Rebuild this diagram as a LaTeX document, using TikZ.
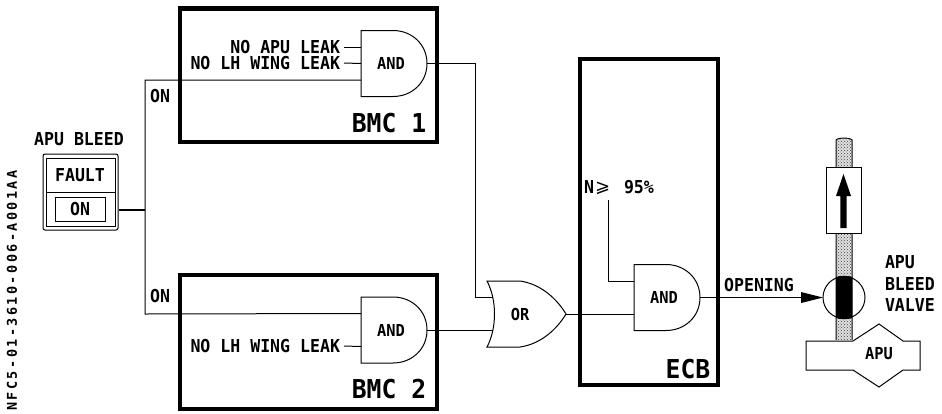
\documentclass[tikz,border=0pt]{standalone}
\usepackage{fontspec}
\usetikzlibrary{patterns,arrows.meta}
\newfontfamily\lblfont[FakeStretch=0.93]{DejaVu Sans Mono Bold}
\newfontfamily\bigfont[FakeStretch=0.95]{DejaVu Sans Mono Bold}
\newfontfamily\sidefont[LetterSpace=18]{DejaVu Sans Mono Bold}
\newfontfamily\symfont{DejaVu Sans}
\newcommand{\lblsize}{\fontsize{17.8}{20}\lblfont}
\newcommand{\gatesize}{\fontsize{16.5}{20}\lblfont}
\newcommand{\bigsize}{\fontsize{26}{30}\bigfont}
\tikzset{
  wire/.style={line width=1pt,black},
  gateline/.style={line width=1pt,black,fill=white},
  panel/.style={draw=black,line width=4.4pt,rectangle,inner sep=0pt,outer sep=0pt},
  lbl/.style={inner sep=0pt,outer sep=0pt,font=\lblsize},
  lblr/.style={lbl,anchor=east},
  lbll/.style={lbl,anchor=west},
  gatelbl/.style={inner sep=0pt,outer sep=0pt,font=\gatesize},
  biglbl/.style={inner sep=0pt,outer sep=0pt,font=\bigsize},
  dotted pipe/.style={draw=black,line width=1pt,fill=black!12,postaction={pattern=crosshatch dots,pattern color=black!75}},
}
\newcommand{\andgate}[3]{% name, left x, centre y
  \draw[gateline] (#2,#3-33) -- (#2+32,#3-33)
    .. controls (#2+51,#3-33) and (#2+66,#3-19) .. (#2+66,#3)
    .. controls (#2+66,#3+19) and (#2+51,#3+33) .. (#2+32,#3+33)
    -- (#2,#3+33) -- cycle;
  \node[gatelbl] (#1) at (#2+30,#3) {AND};
  \coordinate (#1top) at (#2,#3-16.5);
  \coordinate (#1mid) at (#2,#3);
  \coordinate (#1bot) at (#2,#3+16.5);
  \coordinate (#1out) at (#2+66,#3);
}
\begin{document}
\begin{tikzpicture}[x=1pt,y=-1pt]
\useasboundingbox (0,0) rectangle (942,413);
% panels
\node[panel,minimum width=257pt,minimum height=133.5pt] (bmcA) at (308.5,75.2) {};
\node[panel,minimum width=257pt,minimum height=133.5pt] (bmcB) at (308.5,342) {};
\node[panel,minimum width=138pt,minimum height=326pt] (ecb) at (649,222) {};
\node[biglbl] (bmcAname) at (389,123) {BMC 1};
\node[biglbl] (bmcBname) at (389,389) {BMC 2};
\node[biglbl] (ecbname) at (688,369) {ECB};
% gates
\andgate{andA}{361}{63.5}
\andgate{andB}{361}{330}
\andgate{andC}{634}{297.5}
\draw[gateline] (487,281) -- (520,281)
  .. controls (541,284) and (557,299) .. (566,314)
  .. controls (557,329) and (541,344) .. (520,347) -- (487,347)
  .. controls (497,328) and (497,300) .. (487,281) -- cycle;
\node[gatelbl] (orgate) at (520,314) {OR};
\coordinate (ortop) at (492.5,297.5);
\coordinate (orbot) at (492.5,330);
\coordinate (orout) at (566,314);
% switch
\draw[line width=1pt,rounded corners=2pt] (43,154) rectangle (118,230);
\draw[line width=1pt] (46,158) rectangle (115,226);
\draw[line width=1pt] (46,192) -- (115,192);
\node[draw=black,line width=1pt,minimum width=50pt,minimum height=24pt,inner sep=0pt,outer sep=0pt,font=\lblsize] (onbtn) at (80,209) {ON};
\node[lbl] (fault) at (80,175) {FAULT};
\node[lbl] (title) at (79,139) {APU BLEED};
\coordinate (swout) at (119,210);
\coordinate (bus) at (145,210);
\coordinate (busT) at (145,80);
\coordinate (busB) at (145,314);
\draw[wire,line width=1.3pt] (swout) -- (bus);
\draw[wire] (andAbot) -- (busT) -- (busB) -- (andBtop);
\node[lbl] (onA) at (160,96) {ON};
\node[lbl] (onB) at (160,296) {ON};
% inputs
\node[lblr] (noapu) at (340,47) {NO APU LEAK};
\node[lblr] (nolhA) at (340,63) {NO LH WING LEAK};
\node[lblr] (nolhB) at (340,346) {NO LH WING LEAK};
\draw[wire] (noapu.east)++(4,0) -- (andAtop);
\draw[wire] (nolhA.east)++(4,0) -- (andAmid);
\draw[wire] (nolhB.east)++(4,0) -- (andBbot);
% gate wiring
\coordinate (kneeA) at (475,63.5);
\coordinate (kneeB) at (475,297.5);
\draw[wire] (andAout) -- (kneeA) -- (kneeB) -- (ortop);
\draw[wire] (andBout) -- (orbot);
\draw[wire] (orout) -- (634,314);
% N >= 95
\node[lbll] (nlabel) at (584,187) {N};
\node[inner sep=0pt,font=\fontsize{18}{20}\symfont,anchor=west] (geq) at (595,188) {⩾};
\node[lbll] (pct) at (624,187) {95\%};
\coordinate (nfoot) at (608,200);
\coordinate (nknee) at (608,281);
\draw[wire] (nfoot) -- (nknee) -- (andCtop);
% pipe
\draw[dotted pipe] (836,340) -- (836,140) .. controls (838,137.5) and (850,137.5) .. (852,140) -- (852,340);
% flow box
\node[draw=black,fill=white,line width=1pt,minimum width=35pt,minimum height=66pt,inner sep=0pt,outer sep=0pt] (flow) at (843.5,200) {};
\fill[black] (840.3,228) -- (840.3,196) -- (836,196) -- (843.5,174) -- (851,196) -- (846.7,196) -- (846.7,228) -- cycle;
% valve
\node[draw=black,line width=1pt,circle,minimum size=42pt,inner sep=0pt,outer sep=0pt] (valve) at (844,297.5) {};
\fill[black] (836,277) .. controls (840,275.5) and (848,275.5) .. (852,277) -- (852,318) .. controls (848,319.5) and (840,319.5) .. (836,318) -- cycle;
% APU
\draw[gateline] (806,341) -- (853,341) -- (879,324) -- (903,341) -- (920,341) -- (920,370) -- (903,370) -- (879,387) -- (853,370) -- (806,370) -- cycle;
\node[gatelbl] (apu) at (879,354) {APU};
% output
\node[lbl] (opening) at (759,285) {OPENING};
\draw[wire] (andCout) -- (801,297.5);
\draw[fill=black,draw=none] (801,292) -- (823,297.5) -- (801,303) -- cycle;
\node[lbll] (vA) at (885,262) {APU};
\node[lbll] (vB) at (885,284) {BLEED};
\node[lbll] (vC) at (885,305) {VALVE};
% reference code
\node[inner sep=0pt,rotate=90,font=\fontsize{13.5}{16}\sidefont] (code) at (12,290.5) {NFC5-01-3610-006-A001AA};
\end{tikzpicture}
\end{document}
